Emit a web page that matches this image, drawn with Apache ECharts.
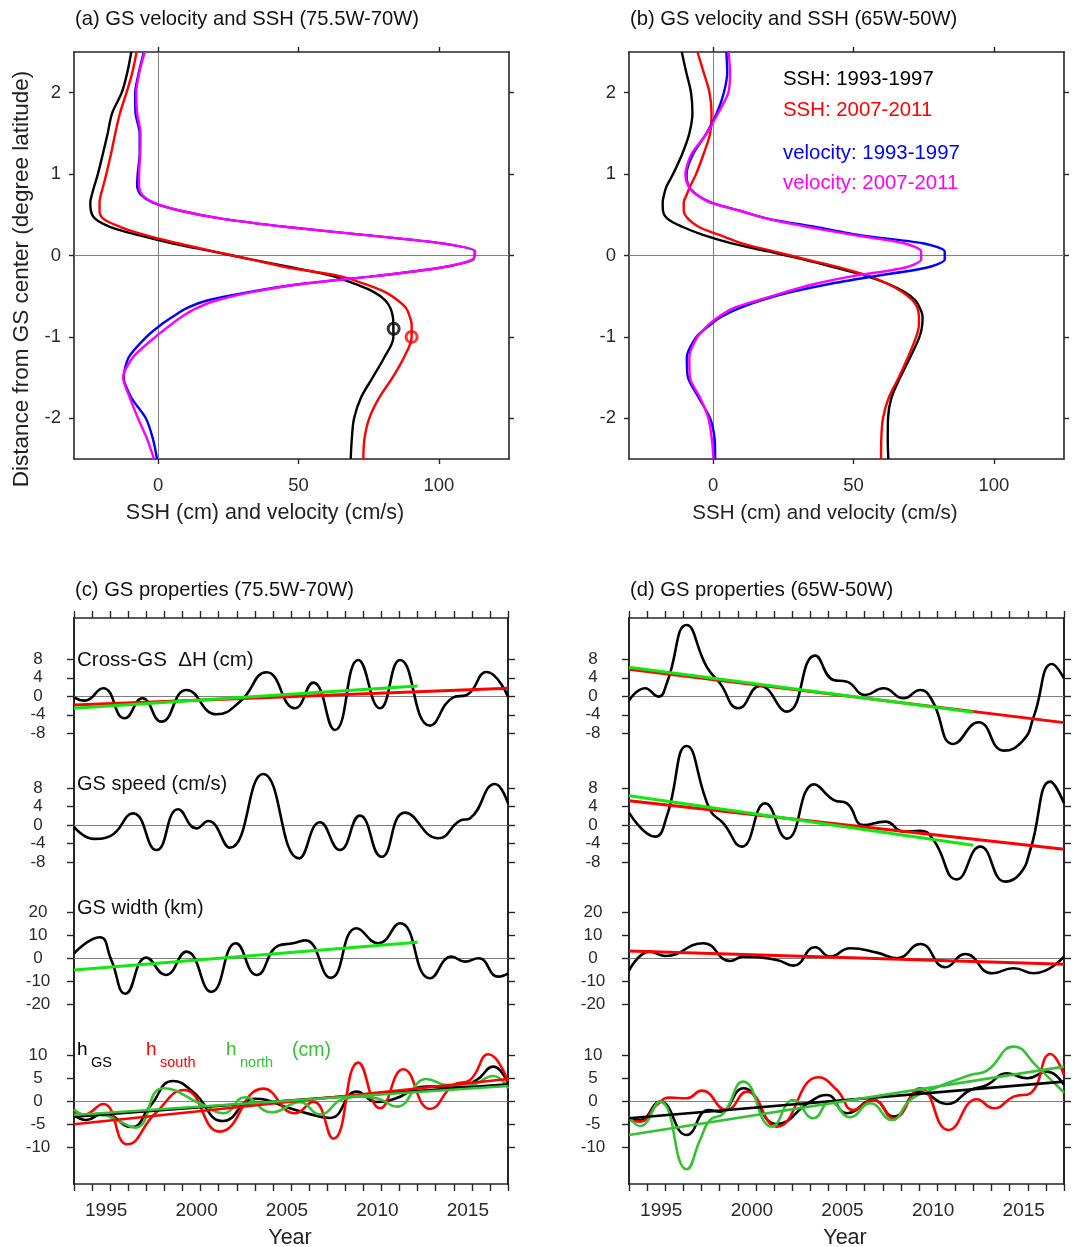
<!DOCTYPE html>
<html><head><meta charset="utf-8">
<script src="https://cdn.jsdelivr.net/npm/echarts@6/dist/echarts.min.js"></script>
<style>html,body{margin:0;padding:0;background:#fff}#c{width:1073px;height:1247px}</style>
</head><body><div id="c"></div>
<script>
// ---------- Panels (a),(b): cross-stream profiles ----------
const distance = [2.5, 2.25, 2.0, 1.75, 1.5, 1.25, 1.0, 0.85, 0.75, 0.65, 0.55, 0.45, 0.35, 0.25, 0.15, 0.05,
  -0.05, -0.15, -0.25, -0.35, -0.45, -0.55, -0.65, -0.75, -0.85, -1.0, -1.25, -1.5, -1.75, -2.0, -2.25, -2.5];

const aSsh9397 = [-9.6, -11.0, -13.0, -16.4, -18.0, -19.7, -21.5, -22.8, -23.6, -24.2, -24.0, -22.4, -17.0, -7.0, 4.9, 19.3,
  33.4, 48.2, 61.9, 70.2, 76.9, 80.9, 82.8, 83.6, 83.8, 83.8, 80.6, 76.4, 72.2, 69.8, 69.0, 68.6];
const aSsh0711 = [-7.7, -9.2, -11.3, -13.6, -15.3, -16.8, -18.5, -19.6, -20.4, -20.9, -20.9, -19.5, -13.4, -4.5, 7.0, 19.8,
  33.4, 46.5, 64.3, 73.6, 80.9, 85.3, 88.4, 89.6, 90.3, 90.3, 87.6, 83.5, 78.7, 75.2, 73.5, 73.1];
const aVel9397 = [-5.1, -6.9, -8.2, -8.1, -6.6, -6.6, -7.3, -7.5, -6.3, -1.9, 7.9, 23.0, 46.0, 74.0, 101.0, 112.8,
  112.2, 100.4, 78.0, 50.7, 32.2, 17.8, 10.0, 5.3, 1.0, -4.2, -10.5, -12.3, -9.5, -4.4, -1.9, -0.4];
const aVel0711 = [-4.8, -6.7, -7.8, -7.5, -6.3, -6.4, -6.8, -6.8, -5.8, -1.5, 8.0, 23.0, 46.0, 74.0, 101.0, 113.0,
  112.0, 100.4, 78.0, 51.0, 33.5, 21.0, 13.5, 8.5, 4.5, -1.0, -9.0, -12.5, -10.1, -7.2, -4.0, -1.5];
const aSshMax9397 = [83.9, -0.90];
const aSshMax0711 = [90.3, -1.0];

const bSsh9397 = [-11.2, -9.6, -7.9, -7.4, -8.5, -11.0, -14.3, -16.6, -17.5, -18.0, -17.9, -16.2, -10.8, -3.4, 6.6, 19.7,
  32.4, 43.7, 54.4, 62.5, 68.2, 72.0, 73.7, 74.6, 74.5, 73.5, 70.2, 66.6, 63.5, 62.3, 62.2, 62.4];
const bSsh0711 = [-5.6, -3.4, -1.3, -0.6, -1.1, -3.4, -6.1, -8.2, -9.4, -10.5, -10.5, -8.9, -5.1, 2.4, 10.3, 21.6,
  33.5, 45.4, 55.3, 62.2, 67.5, 71.0, 72.8, 73.3, 73.3, 72.3, 69.4, 66.1, 62.5, 60.5, 59.9, 59.8];
const bVel9397 = [4.7, 5.0, 3.8, 1.3, -2.4, -7.1, -9.5, -8.7, -6.0, -0.7, 9.5, 19.8, 36.5, 52.0, 74.7, 82.5,
  82.5, 75.9, 58.2, 41.3, 27.7, 17.1, 9.1, 3.1, -1.0, -6.0, -9.4, -9.0, -5.1, -1.1, 0.5, 0.7];
const bVel0711 = [5.5, 6.0, 5.4, 1.8, -2.3, -7.7, -9.9, -8.8, -5.9, -1.0, 9.5, 19.5, 33.8, 50.2, 68.0, 74.1,
  74.1, 68.1, 50.2, 36.1, 25.6, 16.0, 7.0, 2.1, -1.6, -5.6, -8.5, -8.3, -4.6, -1.7, -0.5, 0.1];

const profileTicksX = [0, 50, 100];
const profileTicksY = [-2, -1, 0, 1, 2];

// ---------- Panels (c),(d): time series ----------
const yearTicks = [1993,1994,1995,1996,1997,1998,1999,2000,2001,2002,2003,2004,2005,2006,2007,2008,2009,2010,2011,2012,2013,2014,2015,2016,2017];
const yearLabels = [1995, 2000, 2005, 2010, 2015];
const dhTicks = [-8, -4, 0, 4, 8];
const speedTicks = [-8, -4, 0, 4, 8];
const widthTicks = [-20, -10, 0, 10, 20];
const hTicks = [-10, -5, 0, 5, 10];
const trendYears = [1993, 2017];
const trendYearsShort = [1993, 2012];

// (c) 75.5W-70W
const cDhT = [1993.0, 1993.59, 1994.61, 1995.80, 1996.78, 1997.83, 1999.22, 2000.88, 2002.17, 2003.65, 2005.21, 2006.23, 2007.43, 2008.72, 2009.92, 2011.03, 2012.69, 2013.98, 2014.72, 2015.82, 2017.0];
const cDhV = [-0.22, -0.94, 1.73, -4.76, -0.43, -5.48, 1.37, -3.89, -1.2, 5.19, -2.59, 2.95, -7.28, 7.86, -2.59, 7.86, -6.34, -0.22, 0.29, 5.26, -0.07];
const cDhTrend = [-1.87, 1.73];
const cDhTrendShort = [-2.59, 2.23];
const cSpdT = [1993.0, 1994.1, 1995.0, 1996.27, 1997.56, 1998.76, 1999.77, 2000.42, 2001.62, 2003.46, 2005.45, 2006.60, 2007.70, 2008.81, 2010.01, 2011.30, 2013.15, 2014.35, 2014.90, 2016.28, 2017.0];
const cSpdV = [-0.36, -3.0, -2.4, 2.52, -5.41, 3.39, -0.72, 0.86, -4.90, 11.03, -7.21, 0.58, -5.41, 2.02, -6.85, 2.67, -2.88, 0.94, 1.44, 8.86, 4.68];
const cWidT = [1993.0, 1994.42, 1995.05, 1995.85, 1997.0, 1998.07, 1999.22, 2000.60, 2001.95, 2003.10, 2004.3, 2005.12, 2005.8, 2007.2, 2008.63, 2009.83, 2011.03, 2012.69, 2013.89, 2014.62, 2015.36, 2016.47, 2017.0];
const cWidV = [2.17, 9.13, -0.5, -15.4, 0.3, -7.25, 2.90, -14.6, 6.52, -7.25, 5.5, 6.52, 7.8, -8.5, 13.04, 6.52, 15.22, -8.70, 0.72, -1.45, 0.0, -7.97, -6.52];
const cWidTrendShort = [-5.07, 6.96];
const cHgsT = [1993.0, 1993.68, 1994.61, 1996.2, 1997.19, 1998.48, 1999.59, 2001.25, 2003.0, 2004.94, 2005.95, 2007.15, 2008.63, 2009.73, 2010.66, 2012.50, 2014.35, 2015.27, 2016.19, 2017.0];
const cHgsV = [-2.97, -4.06, -2.61, -5.6, -1.16, 4.42, 2.03, -4.28, 0.55, -1.52, -2.68, -3.62, 2.10, -0.14, 0.43, 3.19, 3.19, 4.64, 7.54, 3.91];
const cHsT = [1993.0, 1993.5, 1994.61, 1995.95, 1997.5, 1999.1, 2001.06, 2003.46, 2005.21, 2006.23, 2007.34, 2008.72, 2009.92, 2011.21, 2012.69, 2013.98, 2014.90, 2015.92, 2017.0];
const cHsV = [-2.25, -2.97, -0.58, -9.35, -2.61, 2.46, -6.59, 2.75, -2.61, -0.07, -8.12, 8.41, -1.52, 6.96, -1.67, 3.55, 4.64, 10.22, 4.28];
const cHnT = [1993.0, 1993.68, 1994.61, 1995.34, 1996.4, 1997.93, 2000.14, 2001.25, 2002.45, 2003.92, 2005.49, 2006.60, 2007.89, 2009.0, 2009.92, 2010.84, 2012.50, 2013.61, 2014.90, 2016.19, 2017.0];
const cHnV = [-1.74, -2.97, -3.0, -4.06, -5.72, 2.83, -0.80, -2.61, 0.87, -2.39, -0.22, -2.83, 0.51, 1.01, 0.43, -1.16, 4.86, 3.55, 3.55, 5.51, 2.83];
const cHgsTrend = [-3.33, 3.70];
const cHsTrend = [-5.0, 4.86];
const cHnTrend = [-2.97, 3.33];

// (d) 65W-50W
const dDhT = [1993.0, 1993.88, 1994.62, 1995.1, 1996.18, 1997.29, 1998.02, 1999.04, 2000.23, 2001.71, 2003.27, 2004.28, 2005.02, 2006.03, 2007.04, 2008.15, 2009.07, 2009.71, 2010.91, 2012.29, 2013.67, 2014.77, 2015.33, 2016.34, 2017.0];
const dDhV = [-0.94, 1.73, -0.07, 3.0, 15.42, 6.34, 2.81, -2.59, 2.23, -3.32, 8.79, 3.53, 3.17, 0.29, 1.73, -0.43, 1.37, -0.79, -10.30, -5.62, -11.75, -9.44, -4.40, 6.99, 3.89];
const dDhTrend = [5.84, -5.69];
const dDhTrendShort = [6.27, -3.46];
const dSpdT = [1993.0, 1994.44, 1995.08, 1996.18, 1997.47, 1998.21, 1999.22, 2000.51, 2001.71, 2003.22, 2004.28, 2005.02, 2005.94, 2007.14, 2008.15, 2009.07, 2009.80, 2011.09, 2012.38, 2013.76, 2014.59, 2015.14, 2016.25, 2017.0];
const dSpdV = [2.67, -2.52, 1.80, 17.08, 3.24, 0.36, -4.68, 4.68, -2.95, 8.79, 5.41, 4.68, 0.0, 0.72, -1.44, -1.23, -3.24, -11.75, -4.68, -12.25, -10.45, -5.41, 9.37, 4.68];
const dSpdTrend = [5.26, -5.26];
const dSpdTrendShort = [6.34, -4.40];
const dWidT = [1993.0, 1994.16, 1994.99, 1997.10, 1998.58, 1999.31, 2001.15, 2002.07, 2003.27, 2004.10, 2005.20, 2006.68, 2007.78, 2009.07, 2010.45, 2011.55, 2013.03, 2014.22, 2015.33, 2017.0];
const dWidV = [-5.36, 2.90, 1.01, 6.52, -1.16, 0.72, -0.72, -3.19, 4.78, 0.72, 4.35, 2.46, 0.0, 6.23, -3.91, 1.88, -6.52, -4.35, -6.52, 0.72];
const dWidTrend = [3.19, -2.61];
const dHgsT = [1993.0, 1993.61, 1994.71, 1996.18, 1997.38, 1998.02, 1999.31, 2001.15, 2003.0, 2003.92, 2005.02, 2006.49, 2007.60, 2009.07, 2010.54, 2011.83, 2012.75, 2013.85, 2014.96, 2016.06, 2017.0];
const dHgsV = [-3.70, -4.06, -0.07, -7.32, -1.88, -2.25, 2.83, -4.93, -0.07, 1.38, -2.61, 0.29, -3.33, 2.10, -0.58, 2.46, 3.55, 6.09, 5.0, 6.45, 3.55];
const dHsT = [1993.0, 1993.61, 1994.53, 1995.26, 1996.18, 1997.01, 1998.39, 1999.50, 2001.15, 2003.45, 2004.47, 2005.39, 2006.49, 2007.60, 2009.07, 2010.63, 2012.20, 2013.12, 2014.22, 2015.14, 2016.25, 2017.0];
const dHsV = [-4.06, -4.42, -0.80, 0.80, 0.65, 2.32, -1.88, 2.10, -5.51, 5.22, 2.46, -1.88, 0.29, -3.70, 2.83, -6.23, 0.43, -1.52, 1.01, 1.74, 10.29, 5.72];
const dHnT = [1993.0, 1993.61, 1994.71, 1996.18, 1996.92, 1997.47, 1998.21, 1999.31, 2000.88, 2002.07, 2003.18, 2004.10, 2005.20, 2006.31, 2007.50, 2008.52, 2009.62, 2011.83, 2012.75, 2014.22, 2015.51, 2017.0];
const dHnV = [-3.33, -5.36, -0.07, -14.78, -8.41, -4.06, -2.61, 4.28, -5.51, 0.29, -3.70, -0.07, -3.48, -0.43, -4.06, 0.29, 2.46, 5.72, 6.67, 11.88, 7.54, 1.88];
const dHgsTrend = [-3.70, 4.28];
const dHnTrend = [-7.32, 7.54];

// ---------- styling / layout ----------
const FONT = '"Liberation Sans", Arial, Helvetica, sans-serif';
const AX = '#262626', TXT = '#2a2a2a', GRAY = '#808080';
const BLACK = '#000000', RED = '#ff0000', BLUE = '#0000ff', MAGENTA = '#ff00ff', LIME = '#10e810', GREEN = '#33c233';

const grids = [], xAxes = [], yAxes = [], series = [];

function makeAxis(gi, pos, cfg, frame, labeled) {
  const ax = { type: 'value', gridIndex: gi, position: pos, min: cfg.min, max: cfg.max, splitLine: { show: false } };
  if (!cfg.show) { ax.show = false; return ax; }
  ax.axisLine = { show: frame, onZero: false, lineStyle: { color: AX, width: 1.6 } };
  ax.axisTick = { show: true, inside: false, length: cfg.tickLen, customValues: cfg.ticks, lineStyle: { color: AX, width: 1.4 } };
  if (labeled) {
    ax.axisLabel = { show: true, customValues: cfg.labels || cfg.ticks, color: TXT, fontFamily: FONT,
      fontSize: cfg.fontSize, margin: cfg.margin, formatter: v => String(v) };
    if (cfg.align) ax.axisLabel.align = cfg.align;
    if (cfg.padding) ax.axisLabel.padding = cfg.padding;
  } else {
    ax.axisLabel = { show: false };
  }
  return ax;
}
function addGrid(rect, xcfg, ycfg, frameX) {
  const gi = grids.length;
  grids.push({ left: rect[0], top: rect[1], width: rect[2], height: rect[3], containLabel: false, outerBoundsMode: 'none' });
  const xi = xAxes.length, yi = yAxes.length;
  xAxes.push(makeAxis(gi, 'bottom', xcfg, frameX, true));
  xAxes.push(makeAxis(gi, 'top', xcfg, frameX, false));
  yAxes.push(makeAxis(gi, 'left', ycfg, true, true));
  yAxes.push(makeAxis(gi, 'right', ycfg, true, false));
  return { x: xi, y: yi };
}
function zip(a, b) { return a.map((v, i) => [v, b[i]]); }
function zeroLine(vertical) {
  const data = [{ yAxis: 0 }];
  if (vertical) data.push({ xAxis: 0 });
  return { silent: true, symbol: 'none', z: 1, animation: false, label: { show: false },
    lineStyle: { color: GRAY, width: 1, type: 'solid' }, emphasis: { disabled: true }, data };
}
function line(ax, data, color, width, smooth, extra) {
  return Object.assign({ type: 'line', xAxisIndex: ax.x, yAxisIndex: ax.y, data, symbol: 'none', showSymbol: false,
    smooth, silent: true, z: 3, lineStyle: { color, width }, itemStyle: { color }, emphasis: { disabled: true } }, extra || {});
}

// Top panels
const profX = { show: true, min: -30, max: 125, ticks: profileTicksX, tickLen: 5, fontSize: 18.5, margin: 17 };
const profY = { show: true, min: -2.5, max: 2.5, ticks: profileTicksY, tickLen: 5, fontSize: 18.5, margin: 13 };
const profiles = [
  { rect: [74, 52, 435, 407], ssh: [aSsh9397, aSsh0711], vel: [aVel9397, aVel0711], marks: true },
  { rect: [629, 52, 435, 407], ssh: [bSsh9397, bSsh0711], vel: [bVel9397, bVel0711], marks: false }
];
profiles.forEach(p => {
  const ax = addGrid(p.rect, profX, profY, true);
  const pts = vals => vals.map((v, i) => [v, distance[i]]);
  series.push(line(ax, pts(p.ssh[0]), BLACK, 2.4, 0.35, { markLine: zeroLine(true) }));
  series.push(line(ax, pts(p.ssh[1]), RED, 2.4, 0.35));
  series.push(line(ax, pts(p.vel[0]), BLUE, 2.4, 0.25));
  series.push(line(ax, pts(p.vel[1]), MAGENTA, 2.4, 0.25));
  if (p.marks) {
    [[aSshMax9397, BLACK], [aSshMax0711, RED]].forEach(m => series.push({
      type: 'scatter', xAxisIndex: ax.x, yAxisIndex: ax.y, data: [m[0]], symbol: 'circle', symbolSize: 11, z: 4, silent: true,
      itemStyle: { color: 'rgba(255,255,255,0)', borderColor: m[1], borderWidth: 3 }
    }));
  }
});

// Bottom panels: four stacked sub-axes sharing the same plotting rectangle
const PT = 618, PH = 566;
function subY(ticks, pxPerUnit, zeroPx) {
  return { show: true, min: -(PT + PH - zeroPx) / pxPerUnit, max: (zeroPx - PT) / pxPerUnit, ticks,
    tickLen: 7, fontSize: 17, margin: 36, align: 'center' };
}
const subs = [subY(dhTicks, 4.625, 696.3), subY(speedTicks, 4.625, 825), subY(widthTicks, 2.3, 958.3), subY(hTicks, 4.6, 1101.3)];
const timeX = { show: true, min: 1993, max: 2017, ticks: yearTicks, labels: yearLabels, tickLen: 7, fontSize: 19, margin: 17, padding: [0, 8, 0, 0] };
const timeXHidden = { show: false, min: 1993, max: 2017 };

function timePanel(left, width, P) {
  const axs = subs.map((s, k) => addGrid([left, PT, width, PH], k === 0 ? timeX : timeXHidden, s, k === 0));
  const LW = 2.6;
  series.push(line(axs[0], zip(P.dhT, P.dhV), BLACK, LW, 0.5, { markLine: zeroLine(false) }));
  series.push(line(axs[0], zip(trendYears, P.dhTrend), RED, 3, false, { z: 4 }));
  series.push(line(axs[0], zip(trendYearsShort, P.dhTrendShort), LIME, 3, false, { z: 5 }));
  series.push(line(axs[1], zip(P.spdT, P.spdV), BLACK, LW, 0.5, { markLine: zeroLine(false) }));
  if (P.spdTrend) series.push(line(axs[1], zip(trendYears, P.spdTrend), RED, 3, false, { z: 4 }));
  if (P.spdTrendShort) series.push(line(axs[1], zip(trendYearsShort, P.spdTrendShort), LIME, 3, false, { z: 5 }));
  series.push(line(axs[2], zip(P.widT, P.widV), BLACK, LW, 0.5, { markLine: zeroLine(false) }));
  if (P.widTrend) series.push(line(axs[2], zip(trendYears, P.widTrend), RED, 3, false, { z: 4 }));
  if (P.widTrendShort) series.push(line(axs[2], zip(trendYearsShort, P.widTrendShort), LIME, 3, false, { z: 5 }));
  series.push(line(axs[3], zip(P.hgsT, P.hgsV), BLACK, LW, 0.5, { markLine: zeroLine(false) }));
  series.push(line(axs[3], zip(P.hsT, P.hsV), RED, LW, 0.5));
  series.push(line(axs[3], zip(P.hnT, P.hnV), GREEN, LW, 0.5));
  series.push(line(axs[3], zip(trendYears, P.hgsTrend), BLACK, 2.6, false, { z: 4 }));
  if (P.hsTrend) series.push(line(axs[3], zip(trendYears, P.hsTrend), RED, 2.6, false, { z: 4 }));
  series.push(line(axs[3], zip(trendYears, P.hnTrend), GREEN, 2.6, false, { z: 4 }));
}
timePanel(74, 434, { dhT: cDhT, dhV: cDhV, dhTrend: cDhTrend, dhTrendShort: cDhTrendShort,
  spdT: cSpdT, spdV: cSpdV, widT: cWidT, widV: cWidV, widTrendShort: cWidTrendShort,
  hgsT: cHgsT, hgsV: cHgsV, hsT: cHsT, hsV: cHsV, hnT: cHnT, hnV: cHnV,
  hgsTrend: cHgsTrend, hsTrend: cHsTrend, hnTrend: cHnTrend });
timePanel(629, 435, { dhT: dDhT, dhV: dDhV, dhTrend: dDhTrend, dhTrendShort: dDhTrendShort,
  spdT: dSpdT, spdV: dSpdV, spdTrend: dSpdTrend, spdTrendShort: dSpdTrendShort,
  widT: dWidT, widV: dWidV, widTrend: dWidTrend,
  hgsT: dHgsT, hgsV: dHgsV, hsT: dHsT, hsV: dHsV, hnT: dHnT, hnV: dHnV,
  hgsTrend: dHgsTrend, hnTrend: dHnTrend });

// ---------- texts ----------
function txt(text, x, y, size, color, align, extra) {
  return Object.assign({ type: 'text', x, y, silent: true, z: 10,
    style: { text, fill: color || '#111', fontSize: size, fontFamily: FONT, align: align || 'left', verticalAlign: 'middle' } }, extra || {});
}
const graphics = [
  txt('(a) GS velocity and SSH (75.5W-70W)', 75, 19, 20.2),
  txt('(b) GS velocity and SSH (65W-50W)', 630, 19, 20.2),
  txt('(c) GS properties (75.5W-70W)', 75, 590, 20.2),
  txt('(d) GS properties (65W-50W)', 630, 590, 20.2),
  txt('SSH (cm) and velocity (cm/s)', 265, 513, 21.5, '#222', 'center'),
  txt('SSH (cm) and velocity (cm/s)', 825, 513, 20.5, '#222', 'center'),
  txt('Year', 290, 1238, 21.5, '#222', 'center'),
  txt('Year', 845, 1238, 21.5, '#222', 'center'),
  txt('Distance from GS center (degree latitude)', 22, 279, 22.5, '#222', 'center', { rotation: Math.PI / 2 }),
  txt('SSH: 1993-1997', 783, 79, 20.4, BLACK),
  txt('SSH: 2007-2011', 783, 110, 20.4, RED),
  txt('velocity: 1993-1997', 783, 153, 20.4, BLUE),
  txt('velocity: 2007-2011', 783, 183, 20.4, MAGENTA),
  txt('Cross-GS  \u0394H (cm)', 77, 660, 20.5),
  txt('GS speed (cm/s)', 77, 784, 20),
  txt('GS width (km)', 77, 908, 20),
  txt('h', 77, 1050, 19, BLACK),
  txt('GS', 91, 1063, 14.5, BLACK),
  txt('h', 146, 1050, 19, RED),
  txt('south', 160, 1063, 14.5, RED),
  txt('h', 226, 1050, 19, GREEN),
  txt('north', 240, 1063, 14.5, GREEN),
  txt('(cm)', 292, 1051, 19.5, GREEN)
];

const chart = echarts.init(document.getElementById('c'), null, { renderer: 'canvas' });
chart.setOption({
  animation: false,
  backgroundColor: '#ffffff',
  grid: grids, xAxis: xAxes, yAxis: yAxes, series,
  graphic: { elements: graphics }
});
</script></body></html>
